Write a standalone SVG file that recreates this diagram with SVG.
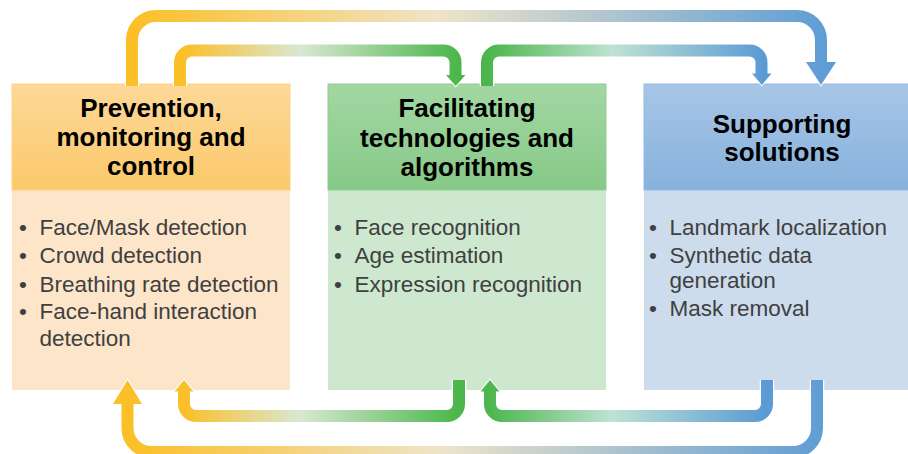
<svg xmlns="http://www.w3.org/2000/svg" width="908" height="454" viewBox="0 0 908 454">
<style>
.hd{font-family:"Liberation Sans",Arial,sans-serif;font-weight:bold;font-size:26px;fill:#000;text-anchor:middle}
.bd{font-family:"Liberation Sans",Arial,sans-serif;font-size:22.5px;fill:#404040}
.wo{fill:none;stroke:#fff;stroke-width:14.5}
.wh{stroke:#fff;stroke-width:2;stroke-linejoin:miter}
.sh{fill:none;stroke-width:12}
</style>
<defs>
<linearGradient id="hY" x1="0" y1="0" x2="0" y2="1"><stop offset="0" stop-color="#FDD898"/><stop offset="1" stop-color="#FBC96B"/></linearGradient>
<linearGradient id="hG" x1="0" y1="0" x2="0" y2="1"><stop offset="0" stop-color="#A3D7A3"/><stop offset="1" stop-color="#86C987"/></linearGradient>
<linearGradient id="hB" x1="0" y1="0" x2="0" y2="1"><stop offset="0" stop-color="#A8C6E7"/><stop offset="1" stop-color="#86B1DC"/></linearGradient>
<linearGradient id="gYB" gradientUnits="userSpaceOnUse" x1="112" y1="0" x2="836" y2="0"><stop offset="0.03" stop-color="#FBBF28"/><stop offset="0.45" stop-color="#EFE4C9"/><stop offset="1" stop-color="#5B9BD5"/></linearGradient>
<linearGradient id="gYG" gradientUnits="userSpaceOnUse" x1="174" y1="0" x2="466" y2="0"><stop offset="0.03" stop-color="#FBBF28"/><stop offset="0.43" stop-color="#D9E8D2"/><stop offset="0.97" stop-color="#4CB64C"/></linearGradient>
<linearGradient id="gGB" gradientUnits="userSpaceOnUse" x1="480" y1="0" x2="773" y2="0"><stop offset="0.03" stop-color="#4CB64C"/><stop offset="0.45" stop-color="#BFE2D2"/><stop offset="0.97" stop-color="#5B9BD5"/></linearGradient>
</defs>
<g id="node-prevention">
<rect x="12" y="190" width="278" height="200" fill="#FDE5CA"/>
<rect x="12" y="84" width="278" height="106" fill="url(#hY)" stroke="#FCD38A" stroke-width="1"/>
<text class="hd" x="151" y="117">Prevention,</text>
<text class="hd" x="151" y="146">monitoring and</text>
<text class="hd" x="151" y="175">control</text>
<text class="bd" x="19" y="235">•</text><text class="bd" x="39.5" y="235">Face/Mask detection</text>
<text class="bd" x="19" y="263">•</text><text class="bd" x="39.5" y="263">Crowd detection</text>
<text class="bd" x="19" y="291.5">•</text><text class="bd" x="39.5" y="291.5">Breathing rate detection</text>
<text class="bd" x="19" y="319">•</text><text class="bd" x="39.5" y="319">Face-hand interaction</text>
<text class="bd" x="39.5" y="346">detection</text>
</g>
<g id="node-facilitating">
<rect x="328" y="190" width="278" height="200" fill="#CDE8CF"/>
<rect x="328" y="84" width="278" height="106" fill="url(#hG)" stroke="#8FCE90" stroke-width="1"/>
<text class="hd" x="467" y="116.7">Facilitating</text>
<text class="hd" x="467" y="146.5">technologies and</text>
<text class="hd" x="467" y="175.5">algorithms</text>
<text class="bd" x="334" y="235">•</text><text class="bd" x="354.5" y="235">Face recognition</text>
<text class="bd" x="334" y="263">•</text><text class="bd" x="354.5" y="263">Age estimation</text>
<text class="bd" x="334" y="291.5">•</text><text class="bd" x="354.5" y="291.5">Expression recognition</text>
</g>
<g id="node-supporting">
<rect x="644" y="190" width="278" height="200" fill="#CCDCEC"/>
<rect x="644" y="84" width="278" height="106" fill="url(#hB)" stroke="#94BAE0" stroke-width="1"/>
<text class="hd" x="782" y="132.7">Supporting</text>
<text class="hd" x="782" y="161">solutions</text>
<text class="bd" x="649" y="235">•</text><text class="bd" x="669.5" y="235">Landmark localization</text>
<text class="bd" x="649" y="263">•</text><text class="bd" x="669.5" y="263">Synthetic data</text>
<text class="bd" x="669.5" y="287.5">generation</text>
<text class="bd" x="649" y="315.5">•</text><text class="bd" x="669.5" y="315.5">Mask removal</text>
</g>
<g id="connectors">
<g id="c-outer-top">
<path class="wo" d="M132,86 V40 A24,24 0 0 1 156,16 H797 A24,24 0 0 1 821,40 V62"/>
<polygon class="wh" points="806,62 836,62 821,85" fill="#fff"/>
<path class="sh" stroke="url(#gYB)" d="M132,86 V40 A24,24 0 0 1 156,16 H797 A24,24 0 0 1 821,40 V62.5"/>
<polygon points="806,62 836,62 821,85" fill="url(#gYB)"/>
</g>
<g id="c-inner-top-left">
<path class="wo" d="M180,86 V62.5 A12,12 0 0 1 192,50.5 H443.5 A12,12 0 0 1 455.5,62.5 V75"/>
<polygon class="wh" points="446,75 465.5,75 455.7,86" fill="#fff"/>
<path class="sh" stroke="url(#gYG)" d="M180,86 V62.5 A12,12 0 0 1 192,50.5 H443.5 A12,12 0 0 1 455.5,62.5 V75.5"/>
<polygon points="446,75 465.5,75 455.7,86" fill="url(#gYG)"/>
</g>
<g id="c-inner-top-right">
<path class="wo" d="M487,86 V62.5 A12,12 0 0 1 499,50.5 H749.5 A12,12 0 0 1 761.5,62.5 V73.5"/>
<polygon class="wh" points="752,73.5 771.5,73.5 761.8,85" fill="#fff"/>
<path class="sh" stroke="url(#gGB)" d="M487,86 V62.5 A12,12 0 0 1 499,50.5 H749.5 A12,12 0 0 1 761.5,62.5 V74"/>
<polygon points="752,73.5 771.5,73.5 761.8,85" fill="url(#gGB)"/>
</g>
<g id="c-inner-bottom-left">
<path class="wo" d="M459,380 V404 A12,12 0 0 1 447,416 H196 A12,12 0 0 1 184,404 V391.5"/>
<polygon class="wh" points="174.5,391.5 193.5,391.5 184,380" fill="#fff"/>
<path class="sh" stroke="url(#gYG)" d="M459,380 V404 A12,12 0 0 1 447,416 H196 A12,12 0 0 1 184,404 V391"/>
<polygon points="174.5,391.5 193.5,391.5 184,380" fill="url(#gYG)"/>
</g>
<g id="c-inner-bottom-right">
<path class="wo" d="M767,380 V404 A12,12 0 0 1 755,416 H502 A12,12 0 0 1 490,404 V391.5"/>
<polygon class="wh" points="480.5,391.5 499.5,391.5 490,380" fill="#fff"/>
<path class="sh" stroke="url(#gGB)" d="M767,380 V404 A12,12 0 0 1 755,416 H502 A12,12 0 0 1 490,404 V391"/>
<polygon points="480.5,391.5 499.5,391.5 490,380" fill="url(#gGB)"/>
</g>
<g id="c-outer-bottom">
<path class="wo" d="M817,380 V428 A24,24 0 0 1 793,452 H151.5 A24,24 0 0 1 127.5,428 V404"/>
<polygon class="wh" points="113,404 142,404 127.5,380" fill="#fff"/>
<path class="sh" stroke="url(#gYB)" d="M817,380 V428 A24,24 0 0 1 793,452 H151.5 A24,24 0 0 1 127.5,428 V403.5"/>
<polygon points="113,404 142,404 127.5,380" fill="url(#gYB)"/>
</g>
</g>
</svg>
